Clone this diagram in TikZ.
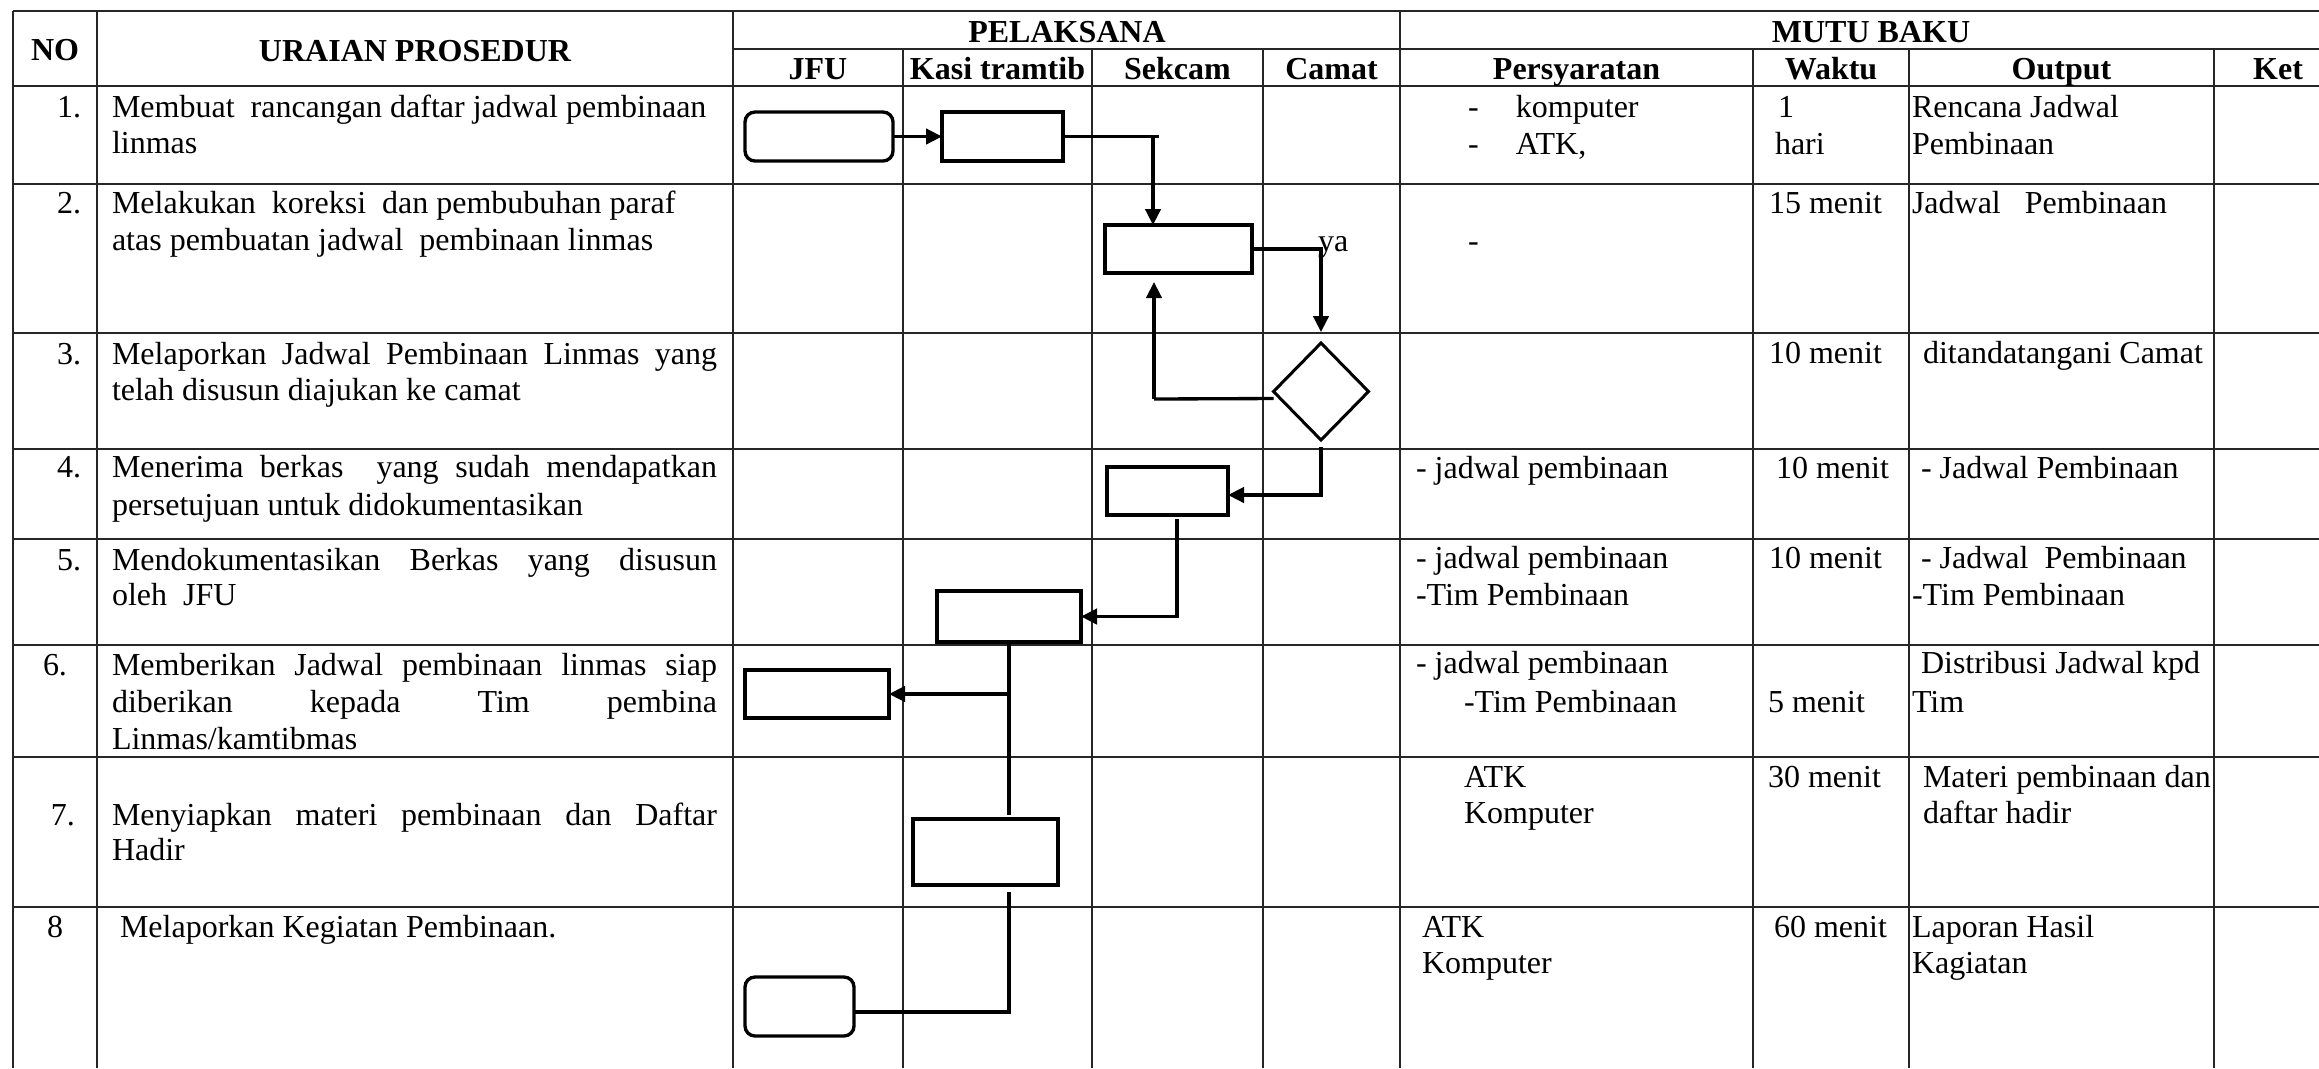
\documentclass[tikz,border=0pt]{standalone}
\usepackage{fontspec}
\setmainfont{Liberation Serif}
\usetikzlibrary{shapes.geometric,arrows.meta,calc}
\newcommand\fs{\fontsize{9.6pt}{11.1pt}\selectfont}
\newcommand\jline[1]{\makebox[181.5pt][s]{#1}}
\newcommand\dsh[1]{\makebox[14.4pt][l]{-}#1}
\begin{document}
\begin{tikzpicture}[x=0.3pt,y=-0.3pt,
  grid/.style={line width=0.65pt,black!85},
  txt/.style={inner sep=0,outer sep=0,anchor=base west,font=\fs},
  num/.style={inner sep=0,outer sep=0,anchor=base east,font=\fs},
  hd/.style={inner sep=0,outer sep=0,anchor=base,font=\fs\bfseries},
  proc/.style={draw,line width=1pt,inner sep=0,outer sep=0,rectangle},
  term/.style={proc,rounded corners=3pt},
  dec/.style={draw,line width=0.9pt,diamond,inner sep=0,outer sep=0},
  flow/.style={line width=1pt},
  arr/.style={flow,-{Triangle[length=4.8pt,width=4.6pt]}}]
\useasboundingbox (0,0) rectangle (2319,1068);
\fill[white] (0,0) rectangle (2319,1068);
\clip (0,0) rectangle (2319,1068);
% ---- grid
\draw[grid] (13,11) -- (2342,11);
\draw[grid] (733,49) -- (2342,49);
\foreach \yy in {86,184,333,449,539,645,757,907}{\draw[grid] (13,\yy) -- (2342,\yy);}
\foreach \xx in {13,97,733,1400,2342}{\draw[grid] (\xx,11) -- (\xx,1068);}
\foreach \xx in {903,1092,1263,1753,1909,2214}{\draw[grid] (\xx,49) -- (\xx,1068);}
% ---- header
\node[hd] (hNO) at (55,60) {NO};
\node[hd] (hUR) at (415,61) {URAIAN PROSEDUR};
\node[hd] (hPL) at (1067,42) {PELAKSANA};
\node[hd] (hMB) at (1871,42) {MUTU BAKU};
\node[hd] (hJFU) at (818,79) {JFU};
\node[hd] (hKS) at (997.5,79) {Kasi tramtib};
\node[hd] (hSC) at (1177.5,79) {Sekcam};
\node[hd] (hCM) at (1331.5,79) {Camat};
\node[hd] (hPS) at (1576.5,79) {Persyaratan};
\node[hd] (hWK) at (1831,79) {Waktu};
\node[hd] (hOP) at (2061.5,79) {Output};
\node[hd] (hKT) at (2278,79) {Ket};
% ---- numbers
\node[num] (n1) at (81,117) {1.};
\node[num] (n2) at (81,213) {2.};
\node[num] (n3) at (81,364) {3.};
\node[num] (n4) at (81,477) {4.};
\node[num] (n5) at (81,570) {5.};
\node[txt] (n6) at (43,675) {6.};
\node[txt] (n7) at (51,825) {7.};
\node[txt] (n8) at (47,937) {8};
% ---- uraian
\node[txt] (r1a) at (112,117) {Membuat\ \ rancangan daftar jadwal pembinaan};
\node[txt] (r1b) at (112,153) {linmas};
\node[txt] (r2a) at (112,213) {Melakukan\ \ koreksi\ \ dan pembubuhan paraf};
\node[txt] (r2b) at (112,250) {atas pembuatan jadwal\ \ pembinaan linmas};
\node[txt] (r3a) at (112,364) {\jline{Melaporkan Jadwal Pembinaan Linmas yang}};
\node[txt] (r3b) at (112,400) {telah disusun diajukan ke camat};
\node[txt] (r4a) at (112,477) {\jline{Menerima berkas\ \ yang sudah mendapatkan}};
\node[txt] (r4b) at (112,515) {persetujuan untuk didokumentasikan};
\node[txt] (r5a) at (112,570) {\jline{Mendokumentasikan Berkas yang disusun}};
\node[txt] (r5b) at (112,605) {oleh\ \ JFU};
\node[txt] (r6a) at (112,675) {\jline{Memberikan Jadwal pembinaan linmas siap}};
\node[txt] (r6b) at (112,712) {\jline{diberikan kepada Tim pembina}};
\node[txt] (r6c) at (112,749) {Linmas/kamtibmas};
\node[txt] (r7a) at (112,825) {\jline{Menyiapkan materi pembinaan dan Daftar}};
\node[txt] (r7b) at (112,860) {Hadir};
\node[txt] (r8a) at (120,937) {Melaporkan Kegiatan Pembinaan.};
% ---- persyaratan
\node[txt] (p1a) at (1468,117) {\dsh{komputer}};
\node[txt] (p1b) at (1468,154) {\dsh{ATK,}};
\node[txt] (p2) at (1468,251) {-};
\node[txt] (p4) at (1416,478) {- jadwal pembinaan};
\node[txt] (p5a) at (1416,568) {- jadwal pembinaan};
\node[txt] (p5b) at (1416,605) {-Tim Pembinaan};
\node[txt] (p6a) at (1416,673) {- jadwal pembinaan};
\node[txt] (p6b) at (1464,712) {-Tim Pembinaan};
\node[txt] (p7a) at (1464,787) {ATK};
\node[txt] (p7b) at (1464,823) {Komputer};
\node[txt] (p8a) at (1422,937) {ATK};
\node[txt] (p8b) at (1422,973) {Komputer};
% ---- waktu
\node[txt] (w1a) at (1778,117) {1};
\node[txt] (w1b) at (1775,154) {hari};
\node[txt] (w2) at (1769,213) {15 menit};
\node[txt] (w3) at (1769,363) {10 menit};
\node[txt] (w4) at (1776,478) {10 menit};
\node[txt] (w5) at (1769,568) {10 menit};
\node[txt] (w6) at (1768,712) {5 menit};
\node[txt] (w7) at (1768,787) {30 menit};
\node[txt] (w8) at (1774,937) {60 menit};
% ---- output
\node[txt] (o1a) at (1912,117) {Rencana Jadwal};
\node[txt] (o1b) at (1912,154) {Pembinaan};
\node[txt] (o2) at (1912,213) {Jadwal\ \ \ Pembinaan};
\node[txt] (o3) at (1923,363) {ditandatangani Camat};
\node[txt] (o4) at (1921,478) {- Jadwal Pembinaan};
\node[txt] (o5a) at (1921,568) {- Jadwal\ \ Pembinaan};
\node[txt] (o5b) at (1912,605) {-Tim Pembinaan};
\node[txt] (o6a) at (1921,673) {Distribusi Jadwal kpd};
\node[txt] (o6b) at (1912,712) {Tim};
\node[txt] (o7a) at (1923,787) {Materi pembinaan dan};
\node[txt] (o7b) at (1923,823) {daftar hadir};
\node[txt] (o8a) at (1912,937) {Laporan Hasil};
\node[txt] (o8b) at (1912,973) {Kagiatan};
% ---- flowchart shapes
\node[term,minimum width=44.4pt,minimum height=14.7pt] (s1) at (819,136.5) {};
\node[proc,minimum width=36.3pt,minimum height=14.7pt] (s2) at (1002.5,136.5) {};
\node[proc,minimum width=44.1pt,minimum height=14.4pt] (s3) at (1178.5,249) {};
\node[dec,minimum width=28.5pt,minimum height=29.1pt] (d) at (1321,391.5) {};
\node[proc,minimum width=36.3pt,minimum height=14.4pt] (s4) at (1167.5,491) {};
\node[proc,minimum width=43.2pt,minimum height=15.3pt] (s5) at (1009,616.5) {};
\node[proc,minimum width=43.2pt,minimum height=14.4pt] (s6) at (817,694) {};
\node[proc,minimum width=43.5pt,minimum height=19.8pt] (s7) at (985.5,852) {};
\node[term,minimum width=32.7pt,minimum height=17.7pt] (s8) at (799.5,1006.5) {};
\node[txt] (ya) at (1318,251) {ya};
% ---- connectors
\coordinate (c1) at (1153,136.5);
\coordinate (c1o) at (1159,136.5);
\coordinate (c2) at (1154,399);
\draw[arr] (s1.east) -- (s2.west);
\draw[flow] (s2.east) -- (c1o);
\draw[arr] (c1) -- (c1 |- s3.north);
\draw[arr] (s3.east) -| ($(d.north)+(0,-11)$);
\draw[flow] ($(d.west)+(0,7)$) -- (c2);
\draw[arr] (c2) -- ($(c2 |- s3.south)+(0,9)$);
\draw[arr] ($(d.south)+(0,7)$) |- ($(s4.east)+(0,4)$);
\draw[arr] ($(s4.south)+(9.5,4)$) |- (s5.east);
\draw[flow] (s5.south) -- ($(s5.south |- s7.north)+(0,-4)$);
\draw[arr] (s5.south |- s6.east) -- (s6.east);
\draw[flow] ($(s5.south |- s7.south)+(0,7)$) |- ($(s8.east)+(0,5.5)$);
\end{tikzpicture}
\end{document}
